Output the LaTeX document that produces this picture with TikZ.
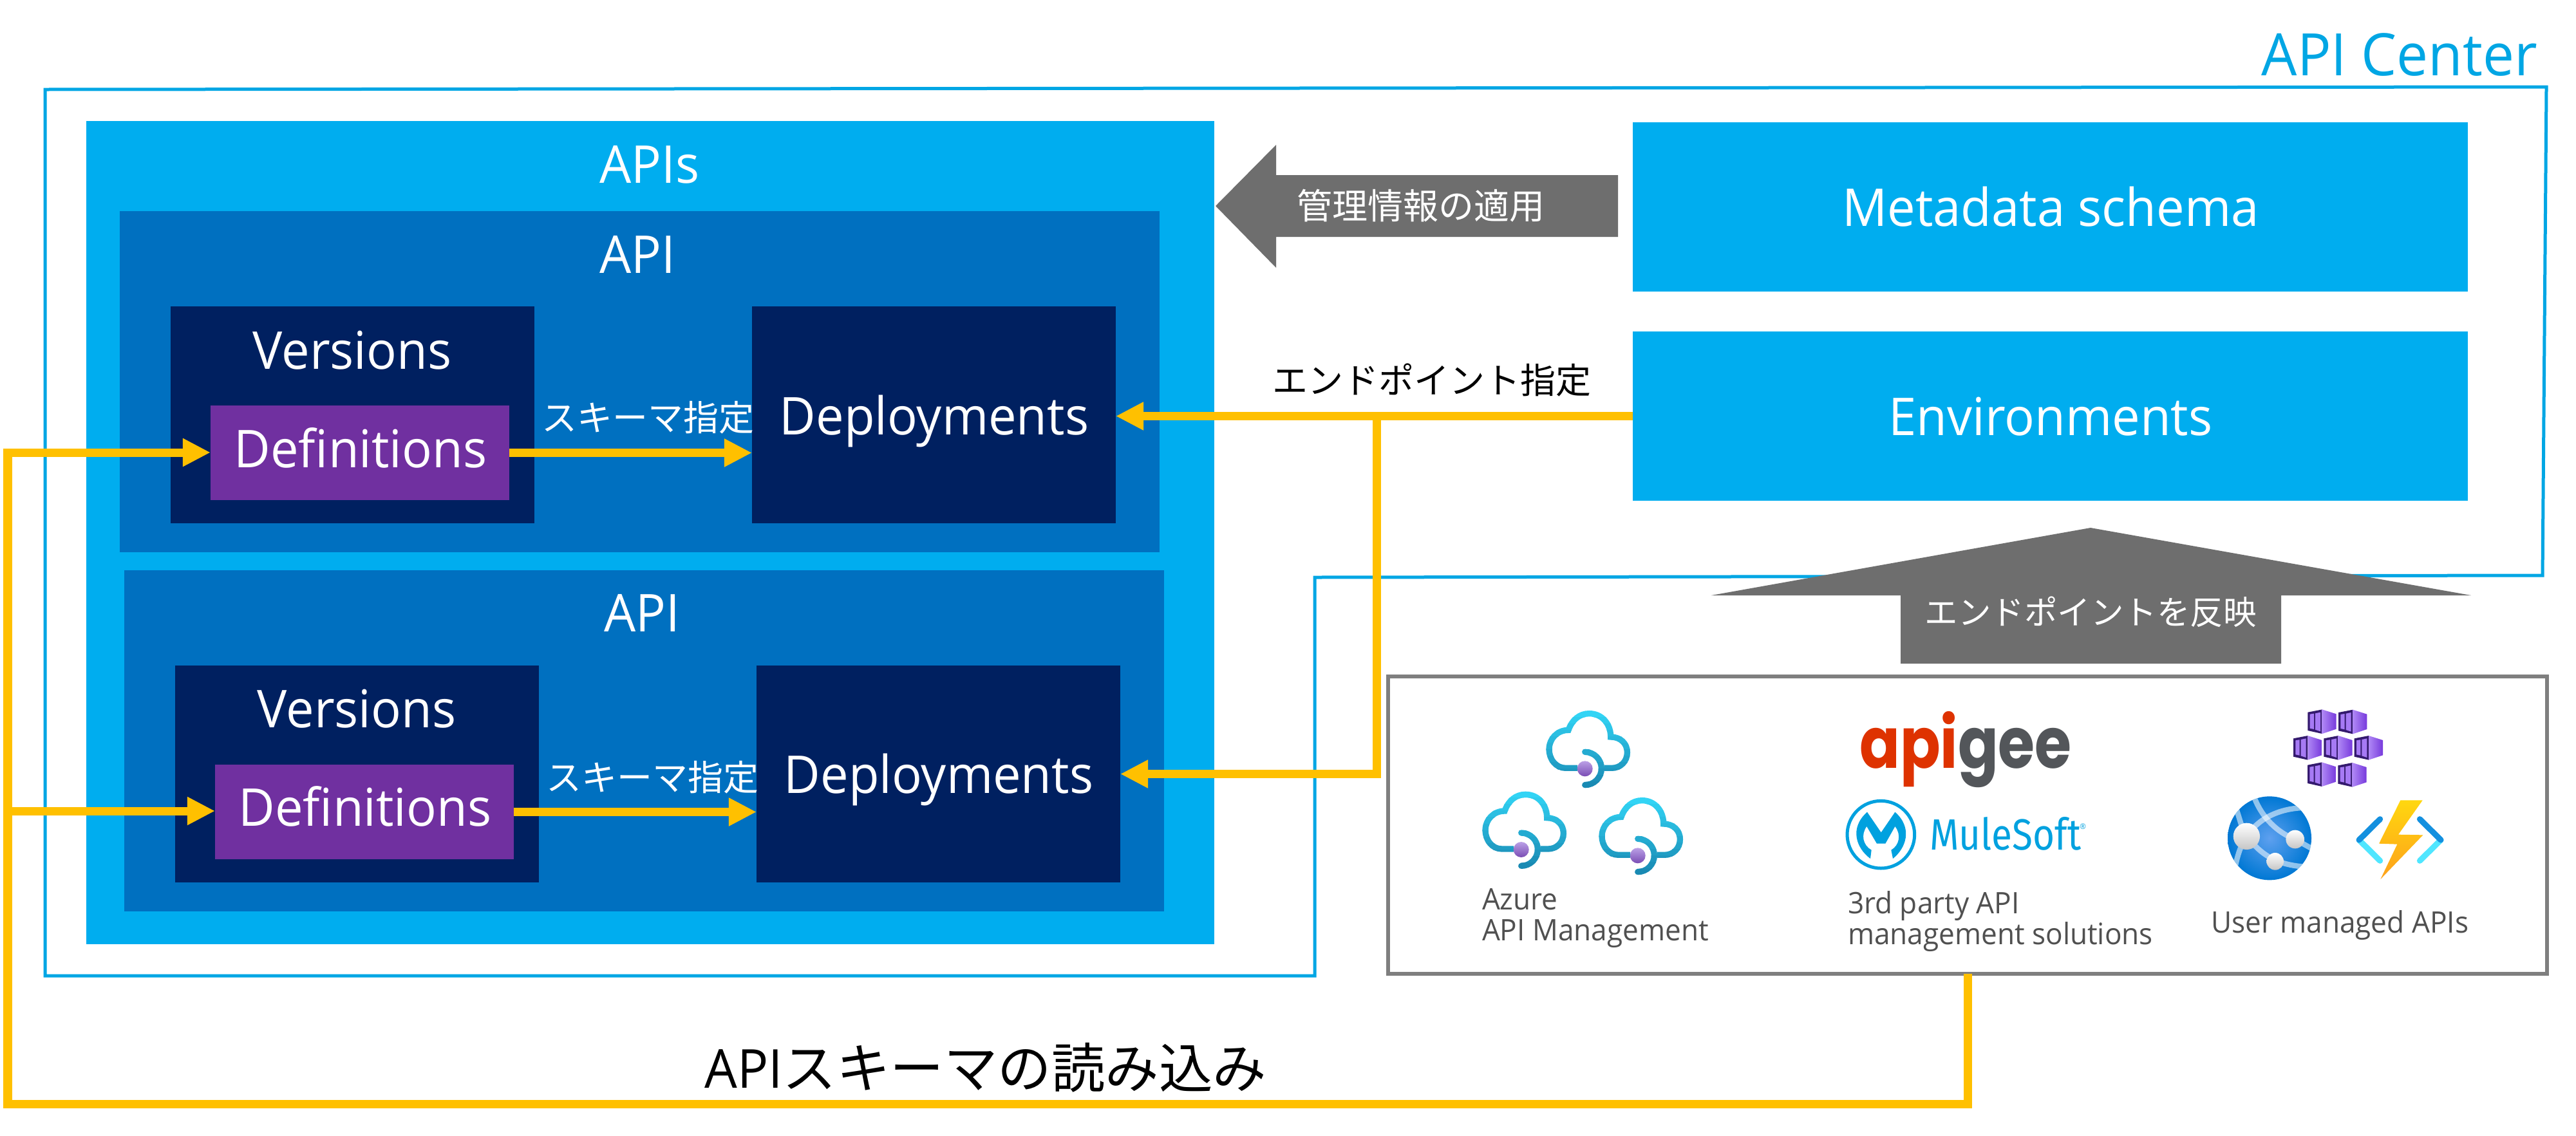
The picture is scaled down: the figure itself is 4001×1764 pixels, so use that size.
\documentclass[tikz,border=0pt]{standalone}
\usepackage{fontspec}
\usetikzlibrary{arrows.meta}
\setmainfont{Open Sans}[FakeStretch=0.96]
\newfontfamily\jp{Noto Sans CJK JP}
\newfontfamily\apifont{Poppins}[FakeStretch=0.84]
\newfontfamily\mulefont{Fira Sans}[FakeStretch=0.86]
\newlength\ux \setlength\ux{0.025cm}
\newlength\uz \setlength\uz{0.008333cm}
\newlength\tmpfs
\newcommand\fs[1]{\setlength\tmpfs{#1\ux}\fontsize{\the\tmpfs}{\the\tmpfs}\selectfont}
\definecolor{sky}{HTML}{00ADEF}
\definecolor{apiblue}{HTML}{0070C0}
\definecolor{navy}{HTML}{002060}
\definecolor{violet}{HTML}{7030A0}
\definecolor{amber}{HTML}{FFC000}
\definecolor{slate}{HTML}{6E6E6E}
\definecolor{framec}{HTML}{00A6E4}
\definecolor{edgec}{HTML}{7F7F7F}
\definecolor{captc}{HTML}{505050}
\definecolor{cta}{HTML}{32D4F5}
\definecolor{ctb}{HTML}{198AB3}
\definecolor{apired}{HTML}{DE3200}
\definecolor{apigray}{HTML}{53565A}
\definecolor{mule}{HTML}{00A1DF}
\definecolor{dota}{HTML}{BBA0E6}
\definecolor{dotb}{HTML}{7A4DB4}
\definecolor{kdark}{HTML}{341A6E}
\definecolor{kwin}{HTML}{A67AF4}
\definecolor{kright}{HTML}{773ADC}
\definecolor{globea}{HTML}{5EA0EF}
\definecolor{globeb}{HTML}{0078D4}
\definecolor{brka}{HTML}{1490DF}
\definecolor{brkb}{HTML}{50E6FF}
\definecolor{bolta}{HTML}{FFD70F}
\definecolor{boltb}{HTML}{FEA11B}
\tikzset{
  panel/.style={inner sep=0pt,outer sep=0pt,anchor=north west},
  lab/.style={inner sep=0pt,outer sep=0pt,anchor=base},
  wlab/.style={lab,text=white},
  jlab/.style={inner sep=0pt,outer sep=0pt,anchor=center},
  capt/.style={inner sep=0pt,outer sep=0pt,anchor=base west,text=captc,align=left},
  wire/.style={draw=amber,line width=9.25pt},
  arrowwire/.style={wire,-{Triangle[length=30.6pt,width=29.2pt]}},
  bigarrow/.style={fill=slate,draw=none},
}
\newcommand\bx[6]{\node[panel,fill=#6,minimum width={(#4-#2)*\ux},minimum height={(#5-#3)*\ux}] (#1) at (#2,#3) {};}
% one Azure API Management cloud, typed in zoom units round its dot
\newcommand\cloudicon[2]{%
\begin{scope}[shift={(#1,#2)},x=\uz,y=-\uz,shift={(-635,-343)},line width=9.33*\ux,line cap=butt,line join=miter]
  \foreach \b in {0,...,11}{%
    \pgfmathsetmacro\ya{72+\b*30.2}
    \pgfmathsetmacro\yb{\ya+31.5}
    \pgfmathtruncatemacro\mixv{100-\b*100/11}
    \colorlet{bandc}{cta!\mixv!ctb}
    \begin{scope}
      \clip (440,\ya) rectangle (860,\yb);
      \draw[bandc] (600,340) -- (545,340) .. controls (500,340) and (468,300) .. (468,252)
        .. controls (468,205) and (505,163) .. (558,163)
        .. controls (575,115) and (610,86) .. (655,86)
        .. controls (715,86) and (755,135) .. (755,195)
        .. controls (800,195) and (832,225) .. (832,267)
        .. controls (832,310) and (800,340) .. (760,340) -- (725,340);
      \draw[bandc,line cap=round] (635,265) .. controls (677.5,265) and (712,299.5) .. (712,342)
        .. controls (712,384.5) and (677.5,419) .. (635,419);
    \end{scope}
  }
  \shade[top color=dota,bottom color=dotb,draw=none] (635,343) circle (36);
\end{scope}}
% one container of the Kubernetes icon
\newcommand\kube[2]{%
\begin{scope}[shift={(#1,#2)}]
  \fill[kdark] (0,13) -- (67,0) -- (67,113) -- (0,98) -- cycle;
  \fill[kwin] (10,22) -- (29,19) -- (29,92) -- (10,88) -- cycle;
  \fill[kwin] (35,18) -- (59,13) -- (59,102) -- (35,94) -- cycle;
  \shade[left color=kwin!90!white,right color=kright,draw=none] (67,0) -- (133,21) -- (133,91) -- (67,113) -- cycle;
\end{scope}}
\begin{document}
\begin{tikzpicture}[x=\ux,y=-\ux]
\useasboundingbox (0,0) rectangle (4001,1764);
\fill[white] (0,0) rectangle (4001,1764);
% API Center frame
\draw[framec,line width=5*\ux,line join=miter] (70,139) -- (3955,135) -- (3949,894) -- (2042,897) -- (2042,1516) -- (70,1516) -- cycle;
\node[lab,text=framec,anchor=base east] (centerlab) at (3941,117) {\fs{91}API Center};
% APIs
\bx{apis}{134}{188}{1886}{1467}{sky}
\node[wlab] (apislab) at (1009,284) {\fs{81}APIs};
% first API
\bx{apia}{186}{328}{1801}{858}{apiblue}
\node[wlab] (apialab) at (990,424) {\fs{81}API};
\bx{vera}{265}{476}{830}{813}{navy}
\node[wlab] (veralab) at (547,573) {\fs{81}Versions};
\bx{defa}{327}{630}{791}{777}{violet}
\node[wlab] (defalab) at (560,726) {\fs{81}Definitions};
\bx{depa}{1168}{476}{1733}{813}{navy}
\node[wlab] (depalab) at (1451,675) {\fs{81}Deployments};
\node[jlab,text=white] (schemaa) at (1006,649) {\fs{55}\jp スキーマ指定};
% second API
\bx{apib}{193}{886}{1808}{1416}{apiblue}
\node[wlab] (apiblab) at (997,981) {\fs{81}API};
\bx{verb}{272}{1034}{837}{1371}{navy}
\node[wlab] (verblab) at (554,1130) {\fs{81}Versions};
\bx{defb}{334}{1188}{798}{1335}{violet}
\node[wlab] (defblab) at (567,1283) {\fs{81}Definitions};
\bx{depb}{1175}{1034}{1740}{1371}{navy}
\node[wlab] (depblab) at (1458,1232) {\fs{81}Deployments};
\node[jlab,text=white] (schemab) at (1013,1208) {\fs{55}\jp スキーマ指定};
% right panels
\bx{meta}{2536}{190}{3833}{453}{sky}
\node[wlab] (metalab) at (3185,351) {\fs{81}Metadata schema};
\bx{env}{2536}{515}{3833}{778}{sky}
\node[wlab] (envlab) at (3185,676) {\fs{81}Environments};
% grey arrows
\fill[bigarrow] (1888,320) -- (1982,225) -- (1982,272) -- (2513,272) -- (2513,368) -- (1982,368) -- (1982,416) -- cycle;
\node[jlab,text=white] (applylab) at (2207,320) {\fs{55}\jp 管理情報の適用};
\fill[bigarrow] (3247,820) -- (3838,925) -- (3543,925) -- (3543,1031) -- (2952,1031) -- (2952,925) -- (2658,925) -- cycle;
\node[jlab,text=white] (reflectlab) at (3247,951) {\fs{51.5}\jp エンドポイントを反映};
% external box
\node[panel,draw=edgec,line width=6*\ux,minimum width=1800*\ux,minimum height=462*\ux] (ext) at (2156,1051) {};
% connectors
\coordinate (railt) at (12,703);
\coordinate (railm) at (12,1260);
\coordinate (railb) at (12,1715);
\coordinate (junc) at (2138,646);
\draw[arrowwire] (defa.east) -- (depa.west |- defa.east);
\draw[arrowwire] (defb.east) -- (depb.west |- defb.east);
\draw[arrowwire] (env.west) -- (env.west -| depa.east);
\draw[arrowwire] (junc) |- (depb.east);
\draw[arrowwire] (ext.south) |- (railb) -- (railt) -- (railt -| defa.west);
\draw[arrowwire] (railm) -- (railm -| defb.west);
\node[jlab,text=black] (endlab) at (2224,590) {\fs{55}\jp エンドポイント指定};
\node[jlab,text=black] (readlab) at (1531,1659) {\fs{83.5}API\jp スキーマの読み込み};
% captions
\node[capt] (azcap) at (2302,1413) {\fs{46}Azure};
\node[capt] (azcapb) at (2302,1461) {\fs{46}API Management};
\node[capt] (thcap) at (2870,1419) {\fs{46}3rd party API};
\node[capt] (thcapb) at (2870,1467) {\fs{46}management solutions};
\node[capt] (usercap) at (3434,1449) {\fs{46}User managed APIs};
% APIM clouds
\cloudicon{2461.7}{1194.3}
\cloudicon{2362.7}{1320}
\cloudicon{2543.7}{1329.3}
% apigee and MuleSoft
\node[inner sep=0pt,anchor=base west] (apigee) at (2888,1193) {\apifont\bfseries\fs{110}\textcolor{apired}{api}\textcolor{apigray}{gee}};
\begin{scope}[shift={(2800,1080)},x=\uz,y=-\uz]
  \draw[mule,line width=5*\ux] (364,650) circle (157);
  \fill[mule] (315,762) .. controls (250,715) and (215,620) .. (300,545) -- (365,640) -- (430,545)
     .. controls (515,620) and (480,715) .. (420,762) -- (412,722)
     .. controls (450,700) and (460,650) .. (430,612) -- (385,692) -- (345,692) -- (298,612)
     .. controls (270,650) and (280,700) .. (320,722) -- cycle;
\end{scope}
\node[inner sep=0pt,anchor=base west,text=mule] (mulelab) at (2997,1320) {\mulefont\fs{68}MuleSoft};
\node[inner sep=0pt,anchor=center,text=mule] (muler) at (3235,1284) {\fs{12}®};
% Kubernetes
\begin{scope}[shift={(3400,1080)},x=\uz,y=-\uz]
  \kube{553}{67}\kube{696}{68}\kube{486}{189}\kube{628}{189}\kube{770}{189}\kube{552}{313}\kube{694}{315}
  % App Service
  \shade[inner color=globea,outer color=globeb] (375,667) circle (195);
  \begin{scope}
    \clip (375,667) circle (195);
    \draw[white,opacity=.55,line width=25*\uz] (305,480) .. controls (340,570) and (410,640) .. (494,672) -- (580,720);
    \draw[white,opacity=.55,line width=25*\uz] (220,530) .. controls (240,590) and (245,620) .. (268,658) .. controls (240,700) and (225,750) .. (215,800);
    \draw[white,opacity=.55,line width=25*\uz] (268,658) .. controls (320,580) and (410,530) .. (530,525);
    \draw[white,opacity=.55,line width=25*\uz] (268,658) .. controls (320,720) and (380,790) .. (540,800);
  \end{scope}
  \shade[top color=white,bottom color=gray!45] (268,658) circle (62);
  \shade[top color=white,bottom color=gray!45] (494,672) circle (43);
  \shade[top color=white,bottom color=gray!45] (401,775) circle (40);
  % Functions
  \draw[brkb,line width=27*\uz,line cap=round] (792,675) -- (890,772);
  \draw[brkb,line width=27*\uz,line cap=round] (1173,675) -- (1075,772);
  \draw[brka,line width=27*\uz,line cap=round] (890,578) -- (792,675);
  \draw[brka,line width=27*\uz,line cap=round] (1075,578) -- (1173,675);
  \shade[top color=bolta,bottom color=boltb] (985,490) -- (1088,490) -- (975,650) -- (1090,652) -- (892,858) -- (970,695) -- (885,692) -- cycle;
\end{scope}
\end{tikzpicture}
\end{document}
